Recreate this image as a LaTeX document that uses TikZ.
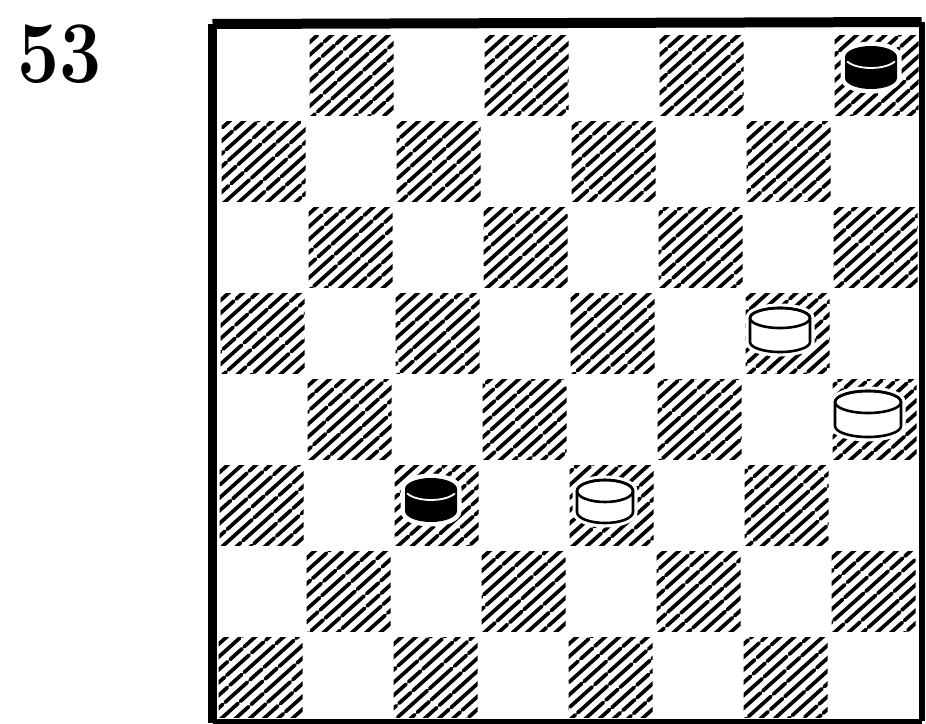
\documentclass[tikz,border=0pt]{standalone}
\begin{document}
\begin{tikzpicture}[x=1pt,y=1pt,
  hatchline/.style={line width=3.7pt, line cap=round, dash pattern=on 30pt off 3.5pt on 16pt off 3pt on 40pt off 3pt},
  edgeline/.style={line width=2.6pt, line join=round},
  haloline/.style={fill=white, draw=white, line width=9pt},
  frameline/.style={line cap=square}]
\pgfmathsetseed{1953}
\useasboundingbox (0,0) rectangle (926,-723);
\fill[white] (0,0) rectangle (926,-723);
% hatched dark squares
\foreach \r in {0,...,7}{
  \foreach \j in {0,...,3}{
    \pgfmathtruncatemacro{\c}{2*\j+1-mod(\r,2)}
    \pgfmathsetmacro{\hx}{222+87.5*\c-0.5*\r}
    \pgfmathsetmacro{\hy}{35+86*\r}
    \begin{scope}
      \clip (\hx,-\hy) rectangle ++(84,-80);
      \foreach \k in {-8,...,7}{
        \pgfmathsetmacro{\ph}{92*rnd}
        \draw[hatchline, dash phase=\ph] ({\hx+\k*14.2},{-\hy-84}) -- ++(100,90);
      }
    \end{scope}
  }
}
% frame
\draw[frameline, line width=9pt] (212.5,-24) -- (212.5,-723);
\draw[frameline, line width=10pt] (212.5,-24) -- (921.5,-22);
\draw[frameline, line width=6pt] (921.5,-22) -- (921.5,-721);
\draw[frameline, line width=5pt] (212.5,-721) -- (921.5,-721);
% pieces
\newcommand{\pieceoutline}[5]{(#1-#3,-#2) -- (#1-#3,-#2-#5) arc[start angle=180,end angle=360,x radius=#3pt,y radius=#4pt] -- (#1+#3,-#2) arc[start angle=0,end angle=180,x radius=#3pt,y radius=#4pt] -- cycle}
\newcommand{\whitepiece}[6]{%
  \path[haloline] \pieceoutline{#1}{#2}{#3}{#4}{#5};
  \draw[edgeline, fill=white] \pieceoutline{#1}{#2}{#3}{#4}{#5};
  \draw[edgeline] (#1,-#2) ellipse[x radius=#3pt, y radius=#4pt];
  \coordinate (#6) at (#1,-#2);
}
\newcommand{\blackpiece}[6]{%
  \path[haloline] \pieceoutline{#1}{#2}{#3}{#4}{#5};
  \fill[black] \pieceoutline{#1}{#2}{#3}{#4}{#5};
  \draw[white, line width=1.8pt, line cap=round] ({#1+#3*cos(205)},{-#2+#4*sin(205)}) arc[start angle=205,end angle=335,x radius=#3pt,y radius=#4pt];
  \coordinate (#6) at (#1,-#2);
}
\blackpiece{871}{57}{26}{11}{21}{b1}
\blackpiece{431}{489}{26}{11}{22}{b2}
\whitepiece{780}{318}{30}{10}{24}{w1}
\whitepiece{868}{402}{33}{11}{24}{w2}
\whitepiece{605}{491}{28}{11}{21}{w3}
% label
\node[anchor=base west, inner sep=0pt] (num) at (17,-82) {\scalebox{0.85}[1]{\fontsize{88}{88}\selectfont\bfseries 53}};
\end{tikzpicture}
\end{document}
